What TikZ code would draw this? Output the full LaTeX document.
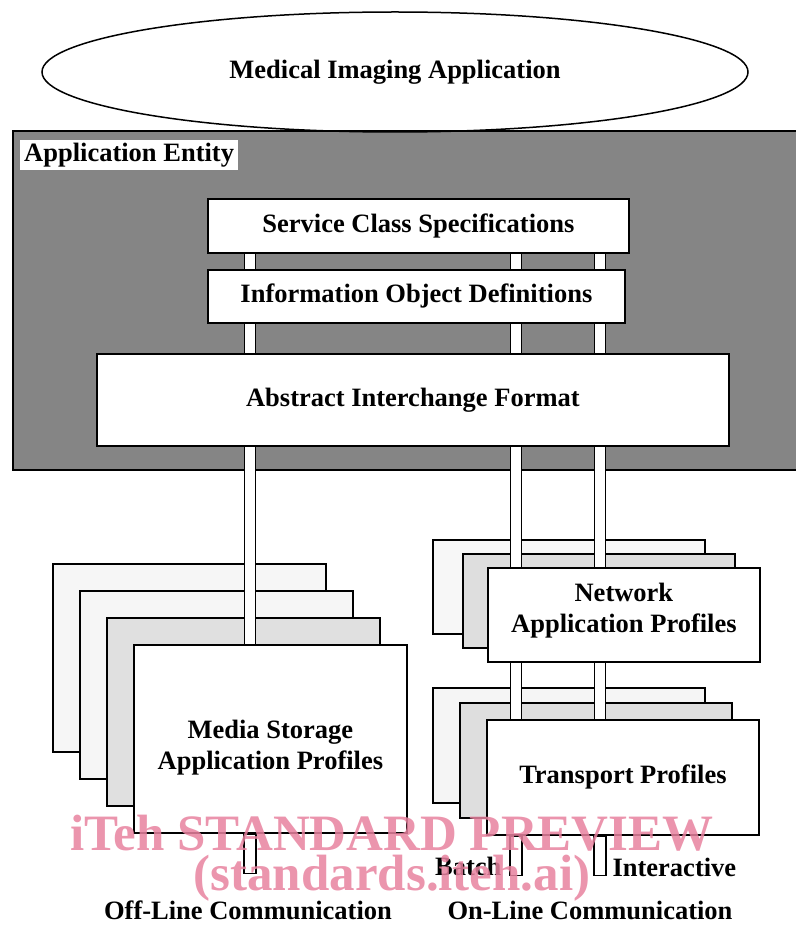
\documentclass[tikz,border=0pt]{standalone}
\usepackage{fontspec}
\setmainfont{Liberation Serif}
\usetikzlibrary{
    positioning,
    calc,
    backgrounds,
    shapes.geometric
}
\pgfdeclarelayer{pipes}
\pgfsetlayers{background,pipes,main}
\definecolor{aegray}{gray}{0.52}
\definecolor{wmpink}{HTML}{E8829F}

\begin{document}
\begin{tikzpicture}[
    x=1pt,
    y=-1pt,
    font=\fontsize{26.5}{31}\selectfont\bfseries,
    layerbox/.style={
        rectangle,
        draw=black,
        line width=1.8pt,
        fill=white,
        align=center,
        inner sep=0pt,
        anchor=north west
    },
    sheet/.style={
        rectangle,
        draw=black,
        line width=1.6pt,
        fill=#1,
        inner sep=0pt,
        anchor=north west
    },
    pipe/.style={
        draw=black,
        line width=1.6pt,
        double=white,
        double distance=9.5pt
    },
    stub/.style={
        rectangle,
        draw=black,
        line width=1.6pt,
        fill=white,
        inner sep=0pt,
        minimum width=12.5pt,
        minimum height=39pt,
        anchor=north
    },
    watermark/.style={
        text=wmpink,
        text opacity=0.85,
        font=\fontsize{51}{53}\selectfont\bfseries
    }
]
\useasboundingbox (0,0) rectangle (795,925);

% =====================================================
% Application and entity
% =====================================================

\node[ellipse, draw, line width=1.5pt, inner sep=0pt,
      minimum width=706pt, minimum height=120pt] (app) at (395,72)
{Medical Imaging Application};

\coordinate (lx) at (250,0);
\coordinate (mx) at (516,0);
\coordinate (rx) at (600,0);

\node[layerbox, minimum width=421pt, minimum height=54pt] (scs) at (207,198)
{Service Class Specifications};

\node[layerbox, minimum width=417pt, minimum height=53pt] (iod) at (207,269)
{Information Object Definitions};

\node[layerbox, minimum width=632pt, minimum height=92pt] (aif) at (96,353)
{Abstract Interchange Format};

% =====================================================
% Profiles
% =====================================================

\node[layerbox, text height=67pt, minimum width=273pt, minimum height=188pt] (media) at (133,644)
{Media Storage\\Application Profiles};

\node[layerbox, text depth=15pt, minimum width=272pt, minimum height=94pt] (net) at (487,567)
{Network\\Application Profiles};

\node[layerbox, minimum width=272pt, minimum height=115pt] (trans) at (486,719)
{Transport Profiles};

% =====================================================
% Pipes
% =====================================================

\begin{pgfonlayer}{pipes}
    \draw[pipe] (scs.south -| lx) -- (media.north -| lx);
    \draw[pipe] (scs.south -| mx) -- (net.north -| mx);
    \draw[pipe] (scs.south -| rx) -- (net.north -| rx);
    \draw[pipe] (net.south -| mx) -- (trans.north -| mx);
    \draw[pipe] (net.south -| rx) -- (trans.north -| rx);

    \node[stub] (offstub) at (media.south -| lx) {};
    \node[stub] (batchstub) at (trans.south -| mx) {};
    \node[stub] (interstub) at (trans.south -| rx) {};
\end{pgfonlayer}

% =====================================================
% Background box and back sheets
% =====================================================

\begin{scope}[on background layer]
    \node[sheet=aegray, minimum width=792pt, minimum height=339pt] (ae) at (12,130) {};

    \foreach \k/\shade in {3/gray!7, 2/gray!7, 1/gray!24}
        \node[sheet=\shade, minimum width=273pt, minimum height=188pt]
            at ($(media.north west)+(-27*\k,-27*\k)$) {};

    \foreach \dx/\dy/\shade in {-55/-28/gray!6, -25/-14/gray!26}
        \node[sheet=\shade, minimum width=272pt, minimum height=94pt]
            at ($(net.north west)+(\dx,\dy)$) {};

    \foreach \dx/\dy/\shade in {-54/-32/gray!8, -27/-17/gray!26}
        \node[sheet=\shade, minimum width=272pt, minimum height=115pt]
            at ($(trans.north west)+(\dx,\dy)$) {};
\end{scope}

\node[fill=white, anchor=north west, inner xsep=4pt, inner ysep=3pt] (aelabel)
    at ($(ae.north west)+(8,10)$) {Application Entity};

% =====================================================
% Labels
% =====================================================

\node[anchor=base east] (batch) at ($(batchstub.south west)+(-4,-1)$) {Batch};
\node[anchor=base west] (inter) at ($(interstub.south east)+(2,0)$) {Interactive};

\node[anchor=base] (offline) at (248,919) {Off-Line Communication};
\node[anchor=base] (online) at (590,919) {On-Line Communication};

% =====================================================
% Watermark
% =====================================================

\node[watermark] (wm1) at (392,833) {iTeh STANDARD PREVIEW};
\node[watermark] (wm2) at (392,878) {(standards.iteh.ai)};

\end{tikzpicture}
\end{document}
